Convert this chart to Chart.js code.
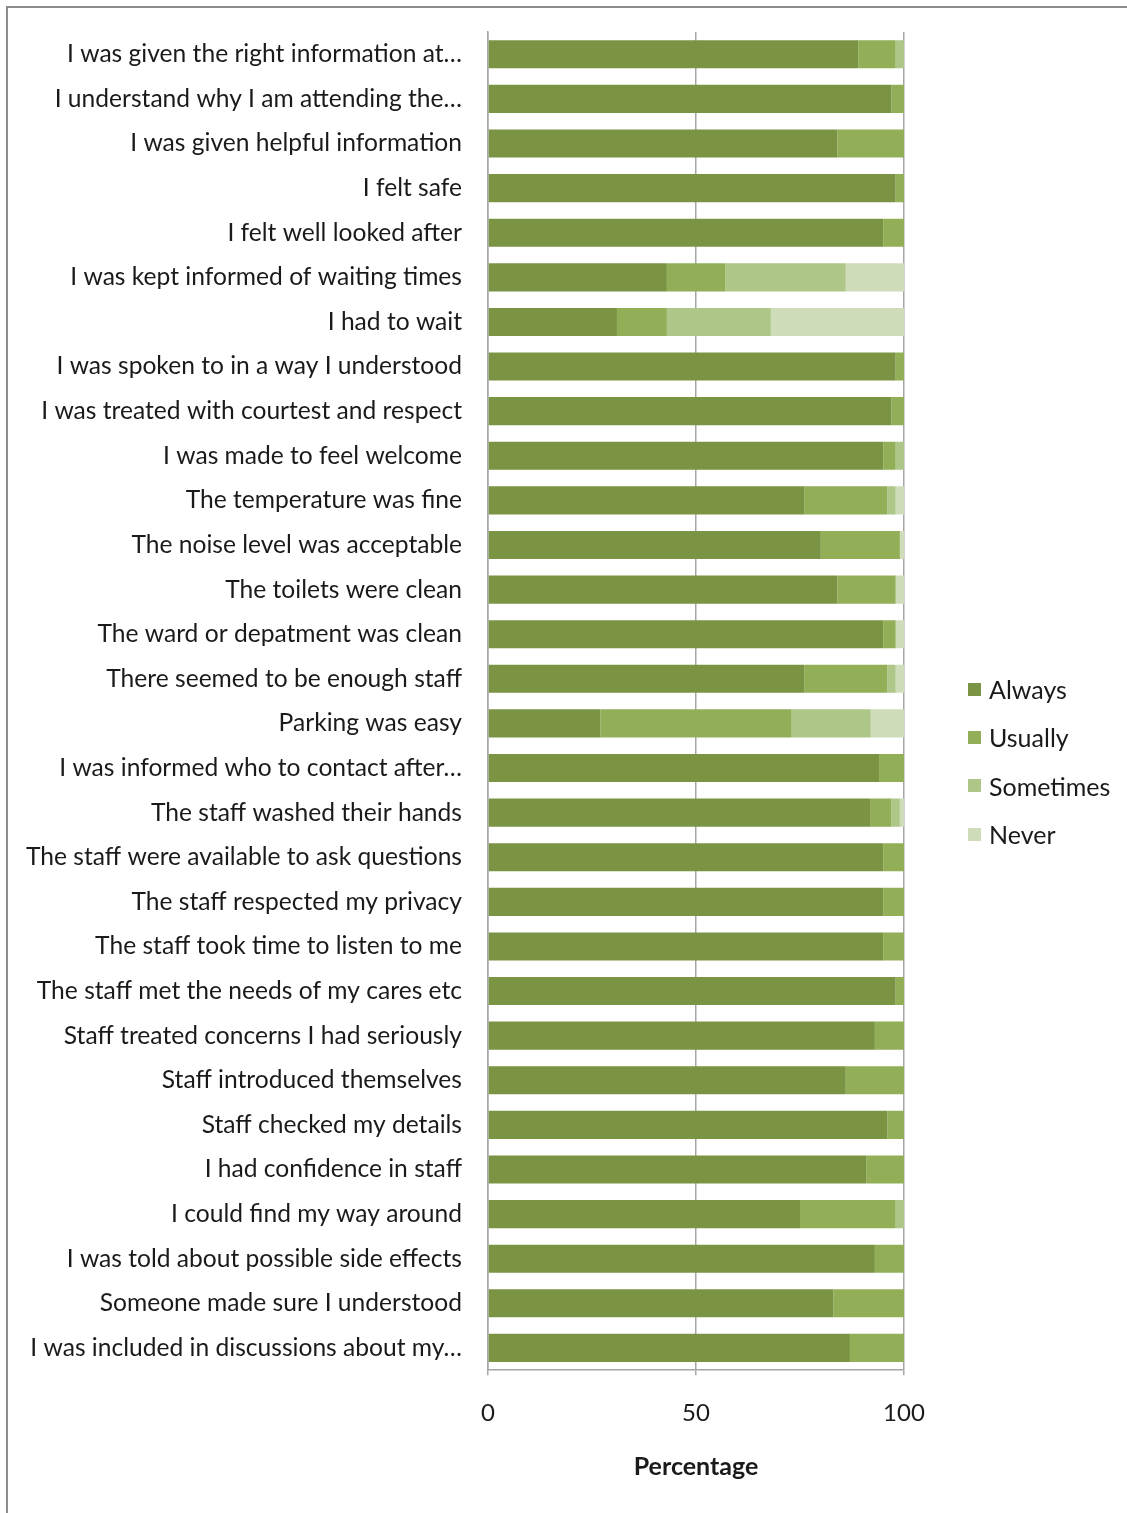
<!DOCTYPE html>
<html>
<head>
<meta charset="utf-8">
<script src="https://cdn.jsdelivr.net/npm/chart.js@4.4.1/dist/chart.umd.min.js"></script>
<style>
    html, body { margin: 0; padding: 0; background: #fff; }
    .frame {
        position: absolute;
        left: 6px;
        top: 6px;
        width: 1121px;
        height: 1507px;
        border-top: 2px solid #8c8c8c;
        border-left: 2px solid #8c8c8c;
    }
    .frame canvas { display: block; }
    #legend {
        position: absolute;
        left: 960px;
        top: 657px;
        margin: 0;
        padding: 0;
        list-style: none;
        font-family: Lato, "Open Sans", sans-serif;
        font-size: 25px;
        color: #1a1a1a;
    }
    #legend li {
        height: 48.3px;
        display: flex;
        align-items: center;
        white-space: nowrap;
    }
    #legend .box {
        display: inline-block;
        width: 13px;
        height: 13px;
        margin-right: 8px;
    }
</style>
</head>
<body>
<div class="frame">
    <canvas id="survey-chart" width="1119" height="1505"></canvas>
    <ul id="legend"></ul>
</div>
<script>
// Survey statements (top to bottom)
const categories = [
    'I was given the right information at\u2026',
    'I understand why I am attending the\u2026',
    'I was given helpful information',
    'I felt safe',
    'I felt well looked after',
    'I was kept informed of waiting times',
    'I had to wait',
    'I was spoken to in a way I understood',
    'I was treated with courtest and respect',
    'I was made to feel welcome',
    'The temperature was fine',
    'The noise level was acceptable',
    'The toilets were clean',
    'The ward or depatment was clean',
    'There seemed to be enough staff',
    'Parking was easy',
    'I was informed who to contact after\u2026',
    'The staff washed their hands',
    'The staff were available to ask questions',
    'The staff respected my privacy',
    'The staff took time to listen to me',
    'The staff met the needs of my cares etc',
    'Staff treated concerns I had seriously',
    'Staff introduced themselves',
    'Staff checked my details',
    'I had confidence in staff',
    'I could find my way around',
    'I was told about possible side effects',
    'Someone made sure I understood',
    'I was included in discussions about my\u2026'
];

// Percentages per answer
const always    = [89, 97, 84, 98, 95, 43, 31, 98, 97, 95, 76, 80, 84, 95, 76, 27, 94, 92, 95, 95, 95, 98, 93, 86, 96, 91, 75, 93, 83, 87];
const usually   = [9, 3, 16, 2, 5, 14, 12, 2, 3, 3, 20, 19, 14, 3, 20, 46, 6, 5, 5, 5, 5, 2, 7, 14, 4, 9, 23, 7, 17, 13];
const sometimes = [2, 0, 0, 0, 0, 29, 25, 0, 0, 2, 2, 0, 0, 0, 2, 19, 0, 2, 0, 0, 0, 0, 0, 0, 0, 0, 2, 0, 0, 0];
const never     = [0, 0, 0, 0, 0, 14, 32, 0, 0, 0, 2, 1, 2, 2, 2, 8, 0, 1, 0, 0, 0, 0, 0, 0, 0, 0, 0, 0, 0, 0];

const xTicks = [0, 50, 100];

const FONT = 'Lato, "Open Sans", sans-serif';
const TEXT = '#1a1a1a';
const GRID = '#a6a6a6';

function series(label, data, color) {
    return {
        label,
        data,
        backgroundColor: color,
        borderWidth: 0,
        barPercentage: 0.63,
        categoryPercentage: 1
    };
}

// Render the legend as HTML so it can sit apart from the plot
const htmlLegend = {
    id: 'htmlLegend',
    afterUpdate(chart) {
        const list = document.getElementById('legend');
        list.innerHTML = '';
        const items = chart.options.plugins.legend.labels.generateLabels(chart);
        items.forEach(item => {
            const li = document.createElement('li');
            const box = document.createElement('span');
            box.className = 'box';
            box.style.background = item.fillStyle;
            li.appendChild(box);
            li.appendChild(document.createTextNode(item.text));
            list.appendChild(li);
        });
    }
};

const ctx = document.getElementById('survey-chart');

new Chart(ctx, {
    type: 'bar',
    data: {
        labels: categories,
        datasets: [
            series('Always', always, '#7a9444'),
            series('Usually', usually, '#92af58'),
            series('Sometimes', sometimes, '#aec688'),
            series('Never', never, '#cfdcb9')
        ]
    },
    options: {
        indexAxis: 'y',
        responsive: false,
        animation: false,
        layout: {
            padding: { top: 24, right: 223, bottom: 23, left: 10 }
        },
        plugins: {
            tooltip: { enabled: false },
            legend: { display: false }
        },
        scales: {
            x: {
                stacked: true,
                min: 0,
                max: 100,
                afterBuildTicks: axis => {
                    axis.ticks = xTicks.map(v => ({ value: v }));
                },
                grid: {
                    color: GRID,
                    lineWidth: 1.5,
                    tickLength: 5
                },
                border: { color: GRID, width: 1.5 },
                ticks: {
                    color: TEXT,
                    padding: 24,
                    font: { family: FONT, size: 24 }
                },
                title: {
                    display: true,
                    text: 'Percentage',
                    color: TEXT,
                    padding: { top: 0, bottom: 8 },
                    font: { family: FONT, size: 25, weight: 'bold' }
                }
            },
            y: {
                stacked: true,
                afterFit: scale => {
                    scale.width = 470;
                    scale.paddingTop = 0;
                    scale.paddingBottom = 0;
                },
                grid: { display: false, drawTicks: false },
                border: { color: GRID, width: 1.5 },
                ticks: {
                    autoSkip: false,
                    color: TEXT,
                    padding: 26,
                    font: { family: FONT, size: 24.6 }
                }
            }
        }
    },
    plugins: [htmlLegend]
});
</script>
</body>
</html>
